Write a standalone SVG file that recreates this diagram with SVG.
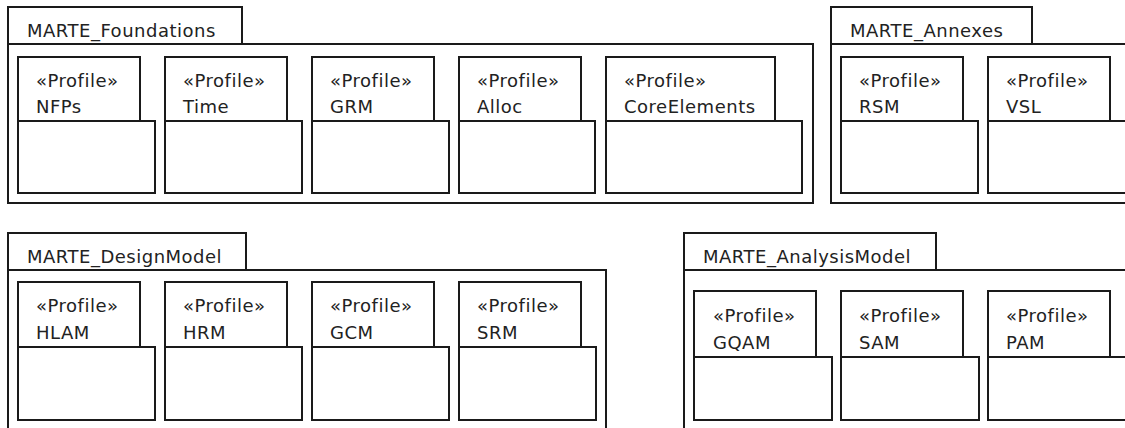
<svg xmlns="http://www.w3.org/2000/svg" width="1125" height="428" viewBox="0 0 1125 428">
<style>
.s{fill:#fff;stroke:#1a1a1a;stroke-width:2}
text{font-family:"DejaVu Sans","Liberation Sans",sans-serif;font-size:18px;fill:#222;letter-spacing:0.5px}
</style>
<rect width="1125" height="428" fill="#fff"/>
<g id="MARTE_Foundations">
<rect class="s" x="8" y="7" width="234" height="37"/>
<rect class="s" x="8" y="44" width="805" height="159"/>
<text x="27" y="37">MARTE_Foundations</text>
</g>
<g id="NFPs">
<rect class="s" x="18" y="57" width="122" height="64"/>
<rect class="s" x="18" y="121" width="137" height="72"/>
<text x="36" y="87">«Profile»</text><text x="36" y="113">NFPs</text>
</g>
<g id="Time">
<rect class="s" x="165" y="57" width="122" height="64"/>
<rect class="s" x="165" y="121" width="137" height="72"/>
<text x="183" y="87">«Profile»</text><text x="183" y="113">Time</text>
</g>
<g id="GRM">
<rect class="s" x="312" y="57" width="122" height="64"/>
<rect class="s" x="312" y="121" width="137" height="72"/>
<text x="330" y="87">«Profile»</text><text x="330" y="113">GRM</text>
</g>
<g id="Alloc">
<rect class="s" x="459" y="57" width="122" height="64"/>
<rect class="s" x="459" y="121" width="136" height="72"/>
<text x="477" y="87">«Profile»</text><text x="477" y="113">Alloc</text>
</g>
<g id="CoreElements">
<rect class="s" x="606" y="57" width="169" height="64"/>
<rect class="s" x="606" y="121" width="196" height="72"/>
<text x="624" y="87">«Profile»</text><text x="624" y="113">CoreElements</text>
</g>
<g id="MARTE_Annexes">
<rect class="s" x="831" y="7" width="201" height="37"/>
<rect class="s" x="831" y="44" width="310" height="159"/>
<text x="850" y="37">MARTE_Annexes</text>
</g>
<g id="RSM">
<rect class="s" x="841" y="57" width="122" height="64"/>
<rect class="s" x="841" y="121" width="137" height="72"/>
<text x="859" y="87">«Profile»</text><text x="859" y="113">RSM</text>
</g>
<g id="VSL">
<rect class="s" x="988" y="57" width="122" height="64"/>
<rect class="s" x="988" y="121" width="138" height="72"/>
<text x="1006" y="87">«Profile»</text><text x="1006" y="113">VSL</text>
</g>
<g id="MARTE_DesignModel">
<rect class="s" x="8" y="233" width="238" height="37"/>
<rect class="s" x="8" y="270" width="598" height="170"/>
<text x="27" y="263">MARTE_DesignModel</text>
</g>
<g id="HLAM">
<rect class="s" x="18" y="282" width="122" height="65"/>
<rect class="s" x="18" y="347" width="137" height="73"/>
<text x="36" y="312">«Profile»</text><text x="36" y="339">HLAM</text>
</g>
<g id="HRM">
<rect class="s" x="165" y="282" width="122" height="65"/>
<rect class="s" x="165" y="347" width="137" height="73"/>
<text x="183" y="312">«Profile»</text><text x="183" y="339">HRM</text>
</g>
<g id="GCM">
<rect class="s" x="312" y="282" width="122" height="65"/>
<rect class="s" x="312" y="347" width="137" height="73"/>
<text x="330" y="312">«Profile»</text><text x="330" y="339">GCM</text>
</g>
<g id="SRM">
<rect class="s" x="459" y="282" width="122" height="65"/>
<rect class="s" x="459" y="347" width="137" height="73"/>
<text x="477" y="312">«Profile»</text><text x="477" y="339">SRM</text>
</g>
<g id="MARTE_AnalysisModel">
<rect class="s" x="684" y="233" width="252" height="37"/>
<rect class="s" x="684" y="270" width="460" height="170"/>
<text x="703" y="263">MARTE_AnalysisModel</text>
</g>
<g id="GQAM">
<rect class="s" x="694" y="291" width="122" height="66"/>
<rect class="s" x="694" y="357" width="138" height="63"/>
<text x="713" y="322">«Profile»</text><text x="713" y="349">GQAM</text>
</g>
<g id="SAM">
<rect class="s" x="841" y="291" width="122" height="66"/>
<rect class="s" x="841" y="357" width="138" height="63"/>
<text x="859" y="322">«Profile»</text><text x="859" y="349">SAM</text>
</g>
<g id="PAM">
<rect class="s" x="988" y="291" width="122" height="66"/>
<rect class="s" x="988" y="357" width="138" height="63"/>
<text x="1006" y="322">«Profile»</text><text x="1006" y="349">PAM</text>
</g>
<g id="connectors"/>
</svg>
